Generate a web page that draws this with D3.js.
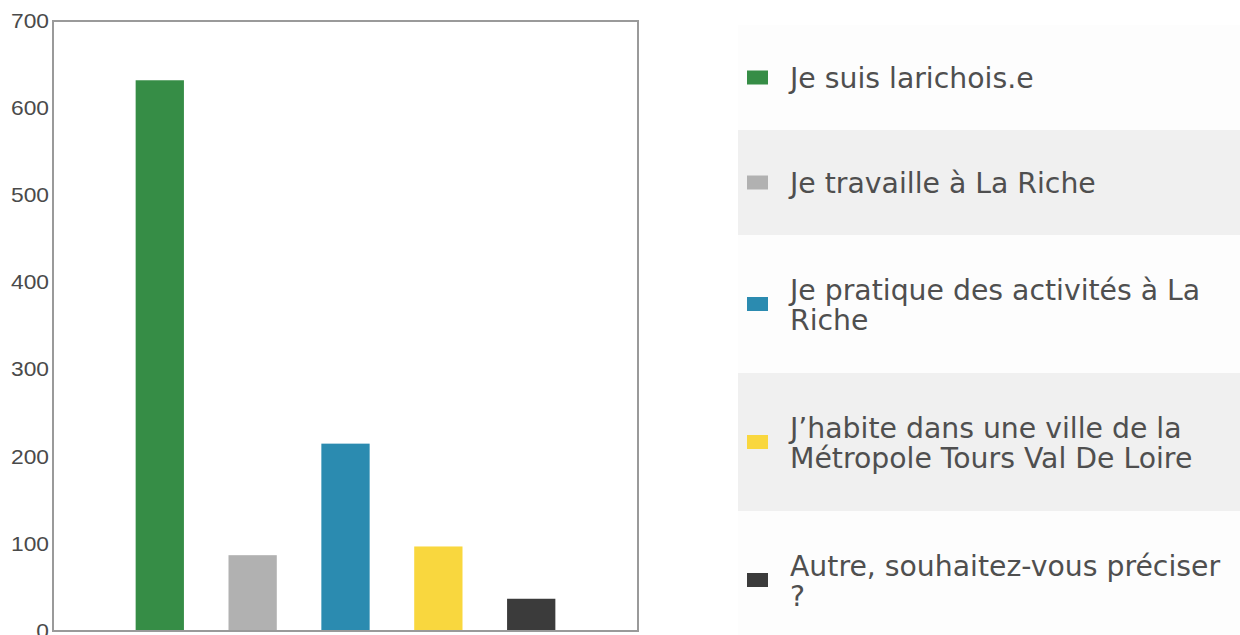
<!DOCTYPE html>
<html>
<head>
<meta charset="utf-8">
<script src="https://cdn.jsdelivr.net/npm/d3@7"></script>
<style>
    body { margin: 0; background: #fff; }
    #chart { width: 1240px; height: 635px; }
</style>
</head>
<body>
<div id="chart"></div>
<script>
// survey answers
let categories = ['Je suis larichois.e', 'Je travaille à La Riche', 'Je pratique des activités à La Riche',
    'J’habite dans une ville de la Métropole Tours Val De Loire', 'Autre, souhaitez-vous préciser ?'];
let values = [632, 87, 215, 97, 37];
let colors = ['#368d46', '#b1b1b1', '#2b8bb0', '#f9d73e', '#3b3b3b'];
let yTicks = [0, 100, 200, 300, 400, 500, 600, 700];

class BarLegendChart {
    constructor(parentElement) {
        this.parentElement = parentElement;
        this.initVis();
    }

    initVis() {
        let vis = this;

        vis.margin = {top: 21, right: 602, bottom: 4, left: 53};
        vis.width = 1240 - vis.margin.left - vis.margin.right;
        vis.height = 635 - vis.margin.top - vis.margin.bottom;

        vis.root = d3.select("#" + vis.parentElement).append("svg")
            .attr("width", 1240)
            .attr("height", 635);

        vis.svg = vis.root.append("g")
            .attr("transform", "translate(" + vis.margin.left + "," + vis.margin.top + ")");

        vis.x = d3.scaleBand()
            .domain(categories)
            .range([0, vis.width])
            .paddingInner(0.48)
            .paddingOuter(0.89);

        vis.y = d3.scaleLinear()
            .domain([0, 700])
            .range([vis.height, 0]);

        vis.colorScale = d3.scaleOrdinal()
            .domain(categories)
            .range(colors);

        vis.updateVis();
    }

    updateVis() {
        let vis = this;

        // bars
        vis.svg.selectAll(".bar")
            .data(values)
            .enter()
            .append("rect")
            .attr("class", "bar")
            .attr("x", (d, i) => vis.x(categories[i]))
            .attr("width", vis.x.bandwidth())
            .attr("y", d => vis.y(d))
            .attr("height", d => vis.height - vis.y(d))
            .attr("fill", (d, i) => vis.colorScale(categories[i]));

        // frame
        vis.svg.append("rect")
            .attr("width", vis.width)
            .attr("height", vis.height)
            .attr("fill", "none")
            .attr("stroke", "#9a9a9a")
            .attr("stroke-width", 2);

        // y axis labels only
        let yAxis = d3.axisLeft(vis.y)
            .tickValues(yTicks)
            .tickSize(0)
            .tickPadding(3.5);

        let axisG = vis.svg.append("g").call(yAxis);
        axisG.select(".domain").remove();
        axisG.selectAll("text")
            .attr("font-family", "'Liberation Sans', Arial, sans-serif")
            .attr("font-size", 20)
            .attr("transform", "scale(1.14,1)")
            .attr("fill", "#4a4a4a");

        vis.drawLegend();
    }

    drawLegend() {
        let vis = this;

        let left = 738, maxText = 440, lineH = 30, rowLine = 33, pad = 36;
        let legend = vis.root.append("g");

        let y0 = 25;
        categories.forEach((c, i) => {
            let row = legend.append("g");
            let bg = row.append("rect")
                .attr("x", left)
                .attr("width", 1240 - left)
                .attr("fill", i % 2 ? "#f0f0f0" : "#fdfdfd");

            // wrap the label
            let text = row.append("text")
                .attr("x", 790)
                .attr("font-family", "'DejaVu Sans', Verdana, sans-serif")
                .attr("font-size", 28.3)
                .attr("fill", "#4f4f4f");

            let words = c.split(" "), lines = [], line = [];
            let probe = text.append("tspan");
            words.forEach(w => {
                line.push(w);
                probe.text(line.join(" "));
                if (probe.node().getComputedTextLength() > maxText && line.length > 1) {
                    line.pop();
                    lines.push(line.join(" "));
                    line = [w];
                }
            });
            lines.push(line.join(" "));
            probe.remove();

            let rowH = pad * 2 + lines.length * rowLine;
            let mid = y0 + rowH / 2;
            bg.attr("y", y0).attr("height", rowH);

            lines.forEach((l, j) => {
                text.append("tspan")
                    .attr("x", 790)
                    .attr("y", mid + 10.5 - (lines.length - 1) * lineH / 2 + j * lineH)
                    .text(l);
            });

            row.append("rect")
                .attr("x", 747)
                .attr("y", mid - 7)
                .attr("width", 21)
                .attr("height", 14)
                .attr("fill", vis.colorScale(c));

            y0 += rowH;
        });
    }
}

new BarLegendChart("chart");
</script>
</body>
</html>
